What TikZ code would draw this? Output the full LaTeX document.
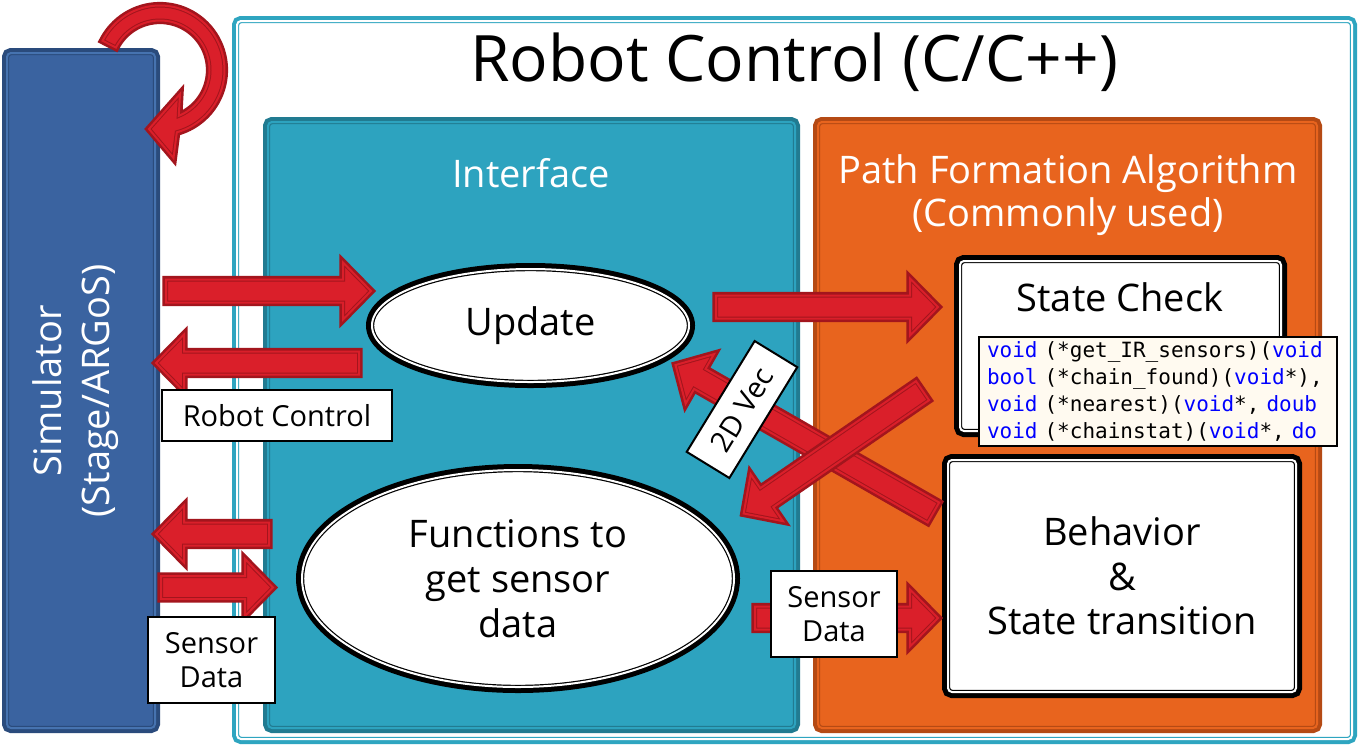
\documentclass[tikz,border=0pt]{standalone}
\usepackage{fontspec}
\setmainfont{Open Sans}
\setmonofont{DejaVu Sans Mono}
\usetikzlibrary{calc,shapes.geometric}
\definecolor{simfill}{HTML}{3A63A0}
\definecolor{simdark}{HTML}{2A4B7C}
\definecolor{simgap}{HTML}{4673B0}
\definecolor{tealfill}{HTML}{2DA3BF}
\definecolor{tealdark}{HTML}{217B91}
\definecolor{rcteal}{HTML}{2EA5C0}
\definecolor{orfill}{HTML}{E8641E}
\definecolor{ordark}{HTML}{B54A14}
\definecolor{arrfill}{HTML}{DA1F2A}
\definecolor{arrdark}{HTML}{A3151D}
\definecolor{codebg}{HTML}{FFFAF0}
\definecolor{kw}{HTML}{0000FF}
\tikzset{
  frm/.style n args={3}{fill=#3, preaction={draw=#1, line width=5pt},
    postaction={draw=#1, line width=2.2pt}, postaction={draw=#2, line width=1pt}},
  blk/.style={fill=white, preaction={draw=black, line width=6pt},
    postaction={draw=black, line width=2.2pt}, postaction={draw=white, line width=1pt}},
  boxnode/.style={rectangle, rounded corners=2pt, inner sep=0pt},
  ellnode/.style={ellipse, inner sep=0pt, align=center},
  barr/.style={fill=arrfill, line join=miter, preaction={draw=arrdark, line width=3.6pt},
    postaction={draw=arrdark, line width=2pt}, postaction={draw=arrfill, line width=1pt}},
  lbl/.style={draw=black, line width=1pt, fill=white, inner sep=0pt, align=center,
    font=\fontsize{14.5}{17}\selectfont},
  wtitle/.style={text=white, align=center},
}
\newcommand\blockarrow[2]{%
  \path ($(#2)!14pt!(#1)$) coordinate (bah);
  \draw[barr] ($(#1)!5.75pt!90:(#2)$) -- ($(bah)!5.75pt!90:(#2)$) -- ($(bah)!14.25pt!90:(#2)$)
    -- (#2) -- ($(bah)!14.25pt!-90:(#2)$) -- ($(bah)!5.75pt!-90:(#2)$)
    -- ($(#1)!5.75pt!-90:(#2)$) -- cycle;
}
\newcommand\kwd[1]{\textcolor{kw}{#1}}
\begin{document}
\begin{tikzpicture}[x=0.5pt,y=-0.5pt,font=\fontsize{19}{22.5}\selectfont]
\useasboundingbox (0,0) rectangle (1359,746);
\fill[white] (0,0) rectangle (1359,746);
% outer frames
\node[boxnode, frm={rcteal}{white}{white}, minimum width=557.5pt, minimum height=359pt] (rc) at (794.5,380) {};
\node[font=\fontsize{32}{38}\selectfont] (title) at (794,62) {Robot Control (C/C++)};
\node[boxnode, frm={simdark}{simgap}{simfill}, minimum width=74pt, minimum height=337.5pt] (sim) at (81,390.5) {};
\node[rotate=90, text=white, align=center, font=\fontsize{19}{24}\selectfont] (simt) at (76,391) {Simulator\\(Stage/ARGoS)};
% curved arrow
\coordinate (cbo) at (173.5,158);
\coordinate (ctip) at (149,129);
\coordinate (cbi) at (180,94);
\draw[barr] plot[domain=207:434.9, samples=60] ({160+64.5*cos(\x)},{70+64.5*sin(\x)})
  -- (cbo) -- (ctip) -- (cbi)
  -- plot[domain=427.7:207, samples=60] ({160+49.5*cos(\x)},{70+49.5*sin(\x)}) -- cycle;
% inner panels
\node[boxnode, frm={tealdark}{tealfill}{tealfill}, minimum width=263.5pt, minimum height=303pt] (iface) at (531.5,425) {};
\node[wtitle] (ift) at (531,173) {Interface};
\node[boxnode, frm={ordark}{orfill}{orfill}, minimum width=249.5pt, minimum height=303pt] (pfa) at (1067.5,425) {};
\node[wtitle, font=\fontsize{19}{21.5}\selectfont] (pfat) at (1068,195) {Path Formation Algorithm\\(Commonly used)};
% ellipses
\node[ellnode, blk, minimum width=158.5pt, minimum height=56.5pt] (upd) at (530.5,325.5) {Update};
\node[ellnode, blk, minimum width=216pt, minimum height=108.5pt] (func) at (518,578.5) {Functions to\\get sensor\\data};
% algorithm boxes
\node[boxnode, blk, minimum width=160.5pt, minimum height=85pt] (sc) at (1120.5,346) {};
\node (sct) at (1120,297) {State Check};
\node[draw=black, line width=1pt, fill=codebg, inner xsep=4pt, inner ysep=0pt, minimum height=54.5pt,
  text width=171pt, align=left, font=\ttfamily\fontsize{10.5}{13.5}\selectfont] (code) at (1158,391.5)
  {\kwd{void} (*get\_IR\_sensors)(\kwd{void}\\
   \kwd{bool} (*chain\_found)(\kwd{void}*),\\
   \kwd{void} (*nearest)(\kwd{void}*, \kwd{doub}\\
   \kwd{void} (*chainstat)(\kwd{void}*, \kwd{do}};
\node[boxnode, blk, minimum width=174pt, minimum height=116pt, align=center,
  font=\fontsize{19}{22.25}\selectfont] (beh) at (1122,576) {Behavior\\\&\\State transition};
% arrow end points
\coordinate (a1t) at (166,291);   \coordinate (a1h) at (371,291);
\coordinate (a2t) at (359,363);   \coordinate (a2h) at (156,363);
\coordinate (a3t) at (269,534);   \coordinate (a3h) at (156,534);
\coordinate (a4t) at (161,587.5); \coordinate (a4h) at (273,587.5);
\coordinate (a5t) at (716,307);   \coordinate (a5h) at (938,307);
\coordinate (a6t) at (922.5,390.7); \coordinate (a6h) at (743.7,513.5);
\coordinate (a7t) at (933.4,512.5); \coordinate (a7h) at (675.5,365);
\coordinate (a8t) at (755,618);   \coordinate (a8h) at (938,618);
\blockarrow{a1t}{a1h}
\blockarrow{a2t}{a2h}
\blockarrow{a3t}{a3h}
\blockarrow{a4t}{a4h}
\blockarrow{a5t}{a5h}
\blockarrow{a8t}{a8h}
\blockarrow{a7t}{a7h}
\blockarrow{a6t}{a6h}
% labels
\node[lbl, minimum width=115pt, minimum height=25.5pt] (rcl) at (277,415.5) {Robot Control};
\node[lbl, minimum width=63.5pt, minimum height=43pt] (sd1) at (211.5,660) {Sensor\\Data};
\node[lbl, minimum width=63pt, minimum height=43pt] (sd2) at (834,614) {Sensor\\Data};
\node[lbl, rotate=58.5, minimum width=65pt, minimum height=25pt] (vec) at (742,409.5) {2D Vec};
\end{tikzpicture}
\end{document}
